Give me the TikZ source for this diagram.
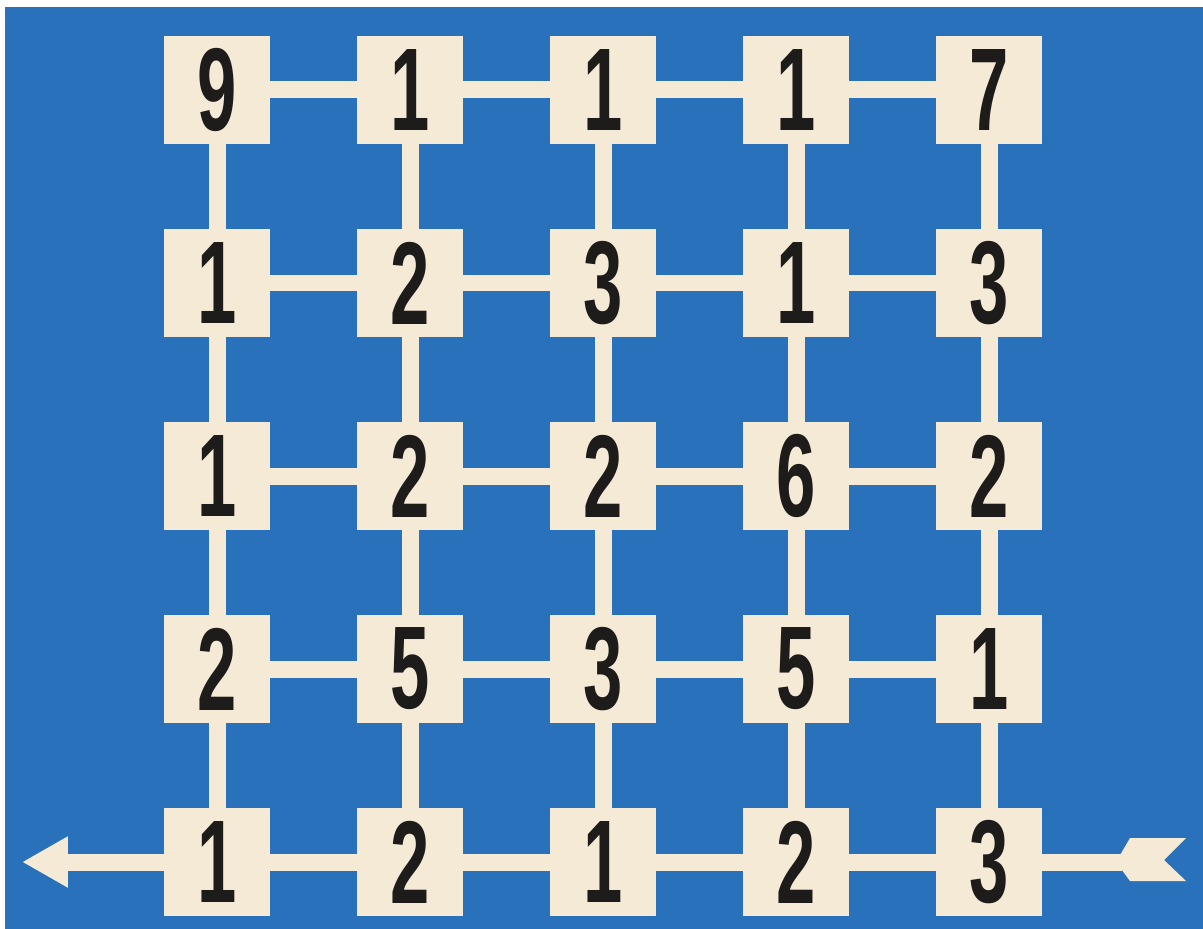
\documentclass[tikz,border=0pt]{standalone}
\usepackage{fontspec}
\setmainfont{Liberation Sans}
\usetikzlibrary{arrows.meta}
\definecolor{boardBlue}{HTML}{2A71BC}
\definecolor{tileCream}{HTML}{F4EAD5}
\definecolor{inkBlack}{HTML}{1E1B1B}

\begin{document}
\begin{tikzpicture}[x=0.02cm, y=-0.02cm,
    tile/.style={
      rectangle, fill=tileCream, inner sep=0pt,
      minimum width=2.12cm, minimum height=2.16cm,
      text=inkBlack, font=\fontsize{67}{67}\selectfont\bfseries
    },
    link/.style={draw=tileCream, line width=0.34cm}
  ]
  \useasboundingbox (0,0) rectangle (1203,929);
  \fill[white] (0,0) rectangle (1203,929);
  \fill[boardBlue] (5,7) rectangle (1203,929);

  % Casillas del laberinto
  \foreach \row [count=\r] in {{9,1,1,1,7},{1,2,3,1,3},{1,2,2,6,2},{2,5,3,5,1},{1,2,1,2,3}} {
    \foreach \v [count=\c] in \row
      \node[tile] (n-\r-\c) at ({217+193*(\c-1)}, {90+193*(\r-1)}) {\scalebox{0.6}[1]{\v}};
  }

  % Pasillos entre casillas
  \foreach \r in {1,...,5} {
    \foreach \c [evaluate=\c as \d using int(\c+1)] in {1,...,4} {
      \draw[link] (n-\r-\c) -- (n-\r-\d);
      \draw[link] (n-\c-\r) -- (n-\d-\r);
    }
  }

  % Entrada y salida
  \coordinate (exit) at (22,862);
  \coordinate (entry) at (1122,862);
  \draw[link, -{Triangle[length=0.92cm, width=0.96cm]}] (n-5-1) -- (exit);
  \draw[link] (n-5-5) -- (entry);
  \fill[tileCream] (1116,862) -- (1130,838) -- (1186,838) -- (1164,860)
    -- (1186,881) -- (1130,881) -- cycle;
\end{tikzpicture}
\end{document}
